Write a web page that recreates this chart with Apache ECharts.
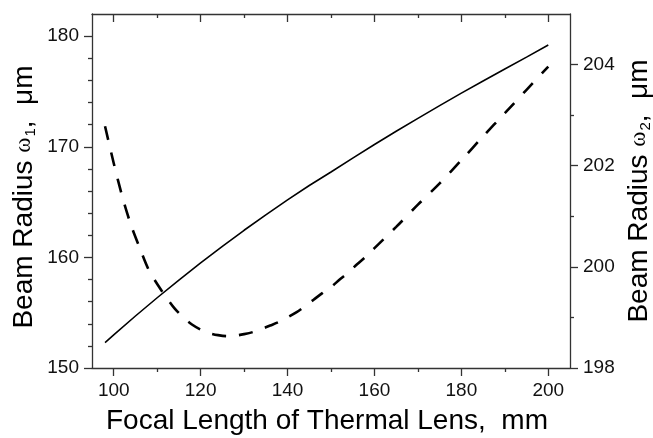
<!DOCTYPE html>
<html>
<head>
<meta charset="utf-8">
<script src="https://cdn.jsdelivr.net/npm/echarts@6/dist/echarts.min.js"></script>
<style>
  html, body { margin: 0; padding: 0; background: #fff; }
  #chart { width: 653px; height: 438px; }
</style>
</head>
<body>
<div id="chart"></div>
<script>
// solid curve: beam radius w1 (left axis)
const focalW1 = [98, 100, 105, 110, 115, 120, 125, 130, 135, 140, 145, 150, 155, 160, 165, 170, 175, 180, 185, 190, 195, 200];
const radiusW1 = [152.3, 153.0, 154.7, 156.35, 157.95, 159.5, 161.0, 162.45, 163.85, 165.2, 166.5, 167.72, 168.97, 170.2, 171.4, 172.57, 173.72, 174.85, 175.95, 177.03, 178.1, 179.2];

// dashed curve: beam radius w2 (right axis)
const focalW2 = [98, 100, 102, 104, 106, 108, 110, 112, 114, 116, 118, 120, 122, 124, 126, 128, 130, 132, 134, 136, 138, 140, 142, 144, 146, 148, 150, 152, 154, 156, 158, 160, 165, 170, 175, 180, 185, 190, 195, 200];
const radiusW2 = [202.78, 202.05, 201.38, 200.82, 200.37, 199.95, 199.66, 199.41, 199.18, 199.0, 198.86, 198.76, 198.69, 198.65, 198.63, 198.64, 198.67, 198.71, 198.77, 198.84, 198.91, 199.0, 199.1, 199.22, 199.35, 199.48, 199.6, 199.75, 199.89, 200.05, 200.2, 200.37, 200.79, 201.23, 201.65, 202.11, 202.58, 203.04, 203.5, 203.96];

// tick labels
const xTicks = [100, 120, 140, 160, 180, 200];
const xMinor = [110, 130, 150, 170, 190];
const y1Ticks = [150, 160, 170, 180];
const y1Minor = [152, 154, 156, 158, 162, 164, 166, 168, 172, 174, 176, 178];
const y2Ticks = [198, 200, 202, 204];
const y2Minor = [199, 201, 203];

const AXIS = '#333';
const FONT = 'Liberation Sans, Arial, sans-serif';
const gridBox = { left: 92, right: 83, top: 14, bottom: 70, outerBoundsMode: 'none', containLabel: false };

const nameRich = {
  a: { fontSize: 28, fontFamily: FONT, color: '#000' },
  w: { fontSize: 23, fontFamily: 'Liberation Serif, serif', color: '#000' },
  s: { fontSize: 15, fontFamily: FONT, color: '#000', verticalAlign: 'bottom', padding: [0, 0, 0, 1] }
};

function majorX(pos, labels) {
  return {
    type: 'value', gridIndex: 0, position: pos, min: 95, max: 205,
    axisLine: { show: true, onZero: false, lineStyle: { color: AXIS, width: 1.3 } },
    axisTick: { show: true, inside: pos === 'top', length: 8, customValues: xTicks, lineStyle: { color: AXIS, width: 1.3 } },
    axisLabel: { show: labels, customValues: xTicks, margin: 13, fontSize: 19, fontFamily: FONT, color: '#111' },
    splitLine: { show: false }
  };
}
function minorX(pos) {
  return {
    type: 'value', gridIndex: 1, position: pos, min: 95, max: 205,
    axisLine: { show: false, onZero: false },
    axisTick: { show: true, inside: pos === 'top', length: 4, customValues: xMinor, lineStyle: { color: AXIS, width: 1.3 } },
    axisLabel: { show: false },
    splitLine: { show: false }
  };
}
function minorY(pos, min, max, vals) {
  return {
    type: 'value', gridIndex: 1, position: pos, min: min, max: max,
    axisLine: { show: false, onZero: false },
    axisTick: { show: true, length: 4, customValues: vals, lineStyle: { color: AXIS, width: 1.3 } },
    axisLabel: { show: false },
    splitLine: { show: false }
  };
}

const chart = echarts.init(document.getElementById('chart'));
chart.setOption({
  animation: false,
  backgroundColor: '#fff',
  grid: [
    Object.assign({}, gridBox),
    Object.assign({}, gridBox)
  ],
  xAxis: [
    Object.assign(majorX('bottom', true), {
      name: 'Focal Length of Thermal Lens,  mm',
      nameLocation: 'middle', nameGap: 39, nameMoveOverlap: false,
      nameTextStyle: { fontSize: 28, fontFamily: FONT, color: '#000', padding: [0, 8, 0, 0] }
    }),
    majorX('top', false),
    minorX('bottom'),
    minorX('top')
  ],
  yAxis: [
    {
      type: 'value', gridIndex: 0, position: 'left', min: 150, max: 182,
      name: '{a|Beam Radius }{w|ω}{s|1}{a|,  μm}',
      nameLocation: 'middle', nameGap: 54, nameRotate: 90, nameMoveOverlap: false,
      nameTextStyle: { rich: nameRich, padding: [0, 12, 0, 0] },
      axisLine: { show: true, onZero: false, lineStyle: { color: AXIS, width: 1.3 } },
      axisTick: { show: true, length: 8, customValues: y1Ticks, lineStyle: { color: AXIS, width: 1.3 } },
      axisLabel: { customValues: y1Ticks, margin: 13, fontSize: 19, fontFamily: FONT, color: '#111' },
      splitLine: { show: false }
    },
    {
      type: 'value', gridIndex: 0, position: 'right', min: 198, max: 205,
      name: '{a|Beam Radius }{w|ω}{s|2}{a|,  μm}',
      nameLocation: 'middle', nameGap: 55, nameRotate: 90, nameMoveOverlap: false,
      nameTextStyle: { rich: nameRich },
      axisLine: { show: true, onZero: false, lineStyle: { color: AXIS, width: 1.3 } },
      axisTick: { show: true, length: 8, customValues: y2Ticks, lineStyle: { color: AXIS, width: 1.3 } },
      axisLabel: { customValues: y2Ticks, margin: 13, fontSize: 19, fontFamily: FONT, color: '#111' },
      splitLine: { show: false }
    },
    minorY('left', 150, 182, y1Minor),
    minorY('right', 198, 205, y2Minor)
  ],
  series: [
    {
      type: 'line', xAxisIndex: 0, yAxisIndex: 0,
      data: focalW1.map((x, i) => [x, radiusW1[i]]),
      showSymbol: false, smooth: false,
      lineStyle: { color: '#000', width: 1.6 }
    },
    {
      type: 'line', xAxisIndex: 0, yAxisIndex: 1,
      data: focalW2.map((x, i) => [x, radiusW2[i]]),
      showSymbol: false, smooth: 0.3,
      lineStyle: { color: '#000', width: 2.6, type: [14, 13] }
    }
  ]
});
</script>
</body>
</html>
